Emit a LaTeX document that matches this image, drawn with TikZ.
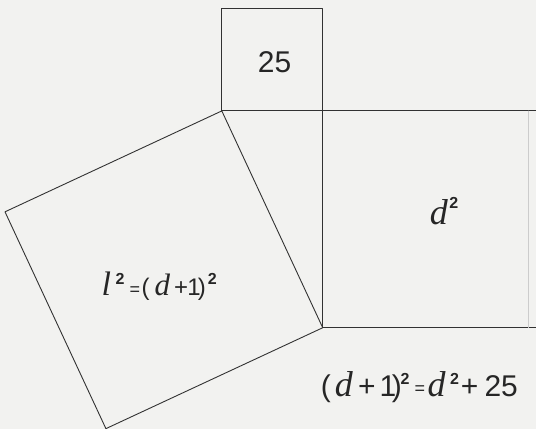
\documentclass[tikz,border=0pt]{standalone}
\usepackage{fontspec}
\setmainfont{Liberation Sans}
\newfontfamily\tms{Liberation Serif}
\definecolor{paper}{RGB}{242,242,240}
\definecolor{ink}{RGB}{50,50,50}
\newcommand{\iv}[2]{{\fontsize{#1}{#1}\selectfont\tms\itshape #2}}
\newcommand{\sq}[1]{\raisebox{#1}{\fontsize{16}{16}\selectfont\bfseries 2}}
\newcommand{\eqs}[1]{\raisebox{#1}{\fontsize{18}{18}\selectfont =}}

\begin{document}
\begin{tikzpicture}[x=1pt,y=-1pt,line cap=round,line join=round,
  edge/.style={draw=ink,line width=0.9pt},
  lbl/.style={inner sep=0pt,anchor=base west,text=black!85}]
\fill[paper] (0,0) rectangle (536,429);
% corners of the triangle
\coordinate (A) at (222,111);
\coordinate (B) at (323,111);
\coordinate (C) at (323,328);
% squares on the sides
\draw[edge] (A) -- (222,8) -- (323,8) -- (B);
\draw[edge] (A) -- (536,111);
\draw[edge] (C) -- (536,328);
\draw[edge] (B) -- (C);
\draw[ink!25,line width=0.6pt] (529,111) -- (529,328);
\draw[edge] (A) -- (5,212) -- (106,429) -- (C) -- cycle;
% labels
\node[lbl] (five) at (258,73) {\fontsize{30}{30}\selectfont 25};
\node[lbl] (dsq) at (430,225) {\iv{36}{d}\kern1.5pt\sq{16.5pt}};
\node[lbl] (lsq) at (101.6,296) {\iv{34}{l}\kern4.5pt\sq{11.5pt}\kern5pt\eqs{0.5pt}\kern1.5pt{\fontsize{24}{24}\selectfont(\kern5pt\iv{31}{d}\kern4pt+\kern-0.6pt1\kern-3pt)\kern2.2pt\sq{11.5pt}}};
\node[lbl] (pyth) at (320.9,397) {\fontsize{30}{30}\selectfont(\kern4.1pt\iv{36}{d}\kern5.2pt+\kern4pt1\kern-4.5pt)\kern-1.1pt\sq{12.5pt}\kern5pt\eqs{2.5pt}\kern2.6pt\iv{36}{d}\kern4.5pt\sq{12.5pt}\kern1.8pt+\kern6.3pt25};
\end{tikzpicture}
\end{document}
